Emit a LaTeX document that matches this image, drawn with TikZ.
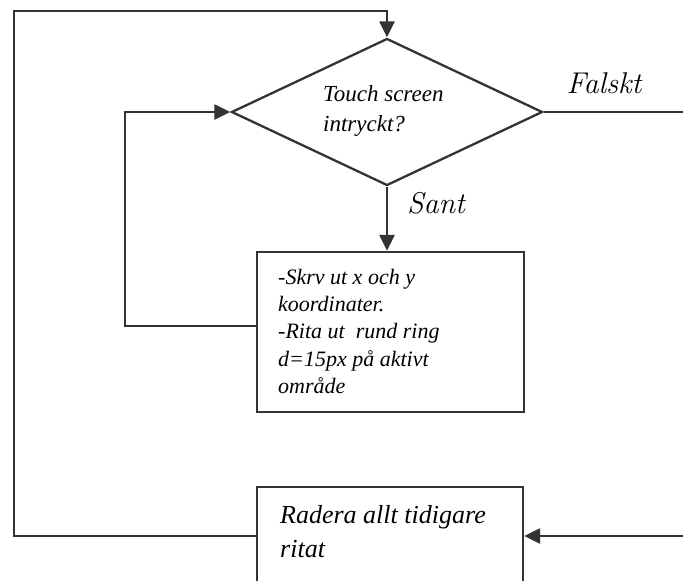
\documentclass[tikz,border=0pt]{standalone}
\usepackage{fontspec}
\newfontfamily\tnr{Liberation Serif}
\usetikzlibrary{shapes.geometric,arrows.meta}
\begin{document}
\begin{tikzpicture}[x=1pt,y=-1pt,
  ln/.style={draw=black!80,line width=2.3pt},
  arr/.style={ln,-{Triangle[length=16pt,width=15pt]}},
  boxn/.style={ln,rectangle,inner sep=0pt,fill=white},
  txt/.style={inner sep=0pt,anchor=north west,align=left,font=\tnr\itshape\fontsize{22}{27.2}\selectfont},
  lbl/.style={inner sep=0pt,font=\itshape\fontsize{30}{34}\selectfont}]
\useasboundingbox (0,0) rectangle (683,581);
\fill[white] (0,0) rectangle (683,581);
\node[ln,diamond,inner sep=0pt,minimum width=311pt,minimum height=147pt] (d) at (387,112) {};
\node[boxn,minimum width=267pt,minimum height=160pt] (b1) at (390.5,332) {};
\node[boxn,minimum width=266pt,minimum height=98pt] (b2) at (390,536) {};
\node[txt,font=\tnr\itshape\fontsize{23}{30}\selectfont] (t0) at (323,85) {Touch screen\\intryckt?};
\node[txt] (t1) at (278,269) {-Skrv ut x och y\\koordinater.\\-Rita ut~ rund ring\\d=15px på aktivt\\område};
\node[txt,font=\tnr\itshape\fontsize{26}{34}\selectfont] (t2) at (280,505) {Radera allt tidigare\\ritat};
\node[lbl] (lf) at (604,83) {Falskt};
\node[lbl] (ls) at (436,203) {Sant};
\coordinate (re) at (690,536);
\coordinate (tl) at (14,11);
\draw[arr] (d.south) -- (d.south |- b1.north);
\draw[arr] ([yshift=6pt]b1.west) -- ++(-131,0) |- (d.west);
\draw[arr] (d.east) -| (re) -- (b2.east);
\draw[arr] (b2.west) -| (tl) -| (d.north);
\end{tikzpicture}
\end{document}
